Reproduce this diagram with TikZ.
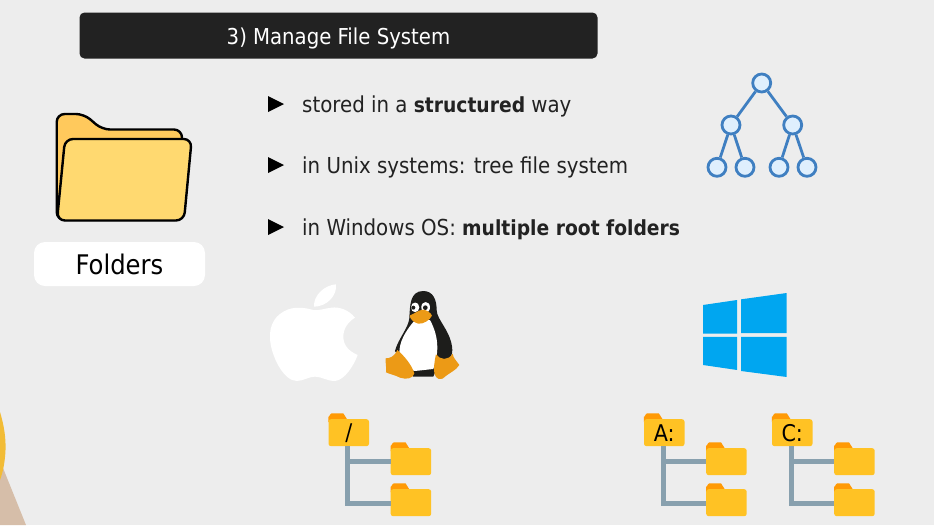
\documentclass[tikz,border=0pt]{standalone}
\usepackage{fontspec}
\setmainfont{DejaVu Sans Condensed}
\definecolor{bgc}{HTML}{EDEDED}
\definecolor{titlec}{HTML}{222222}
\definecolor{fldfront}{HTML}{FFD970}
\definecolor{fldback}{HTML}{FFC95C}
\definecolor{treeline}{HTML}{3F7FC1}
\definecolor{treefill}{HTML}{DFEFFD}
\definecolor{fy}{HTML}{FFC224}
\definecolor{fo}{HTML}{FF9A05}
\definecolor{trunk}{HTML}{88A0AE}
\definecolor{winc}{HTML}{00A6F0}
\definecolor{tuxo}{HTML}{EC9A16}
\definecolor{tuxk}{HTML}{1D1D1B}
\definecolor{beige}{HTML}{D6BEA9}
\definecolor{mustard}{HTML}{F2BC36}
\newcommand{\bt}[1]{{\fontsize{20.8}{25}\selectfont\bfseries #1}}
\tikzset{
  bul/.style={fill=black,draw=none},
  bultext/.style={anchor=west,inner sep=0pt,font=\fontsize{22}{26}\selectfont,text=titlec},
  tn/.style={circle,draw=treeline,line width=2.8pt,fill=treefill,minimum size=18pt,inner sep=0pt},
  te/.style={draw=treeline,line width=2.8pt},
  bigfold/.style={draw=black,line width=2.4pt,rounded corners=8pt,line join=round},
  fb/.style={fill=fy,rounded corners=2.5pt,minimum width=40.5pt,minimum height=27pt,inner sep=0pt,font=\fontsize{23}{27}\selectfont,text=black},
  ft/.style={fill=fo,draw=none},
  tr/.style={draw=trunk,line width=5pt}
}
\newcommand{\foldr}[4]{%
  \fill[ft] (#2,#3+3) -- (#2,#3-2.5) to[out=-70,in=180] (#2+3.5,#3-5.7) -- (#2+15,#3-5.7) -- (#2+20.5,#3+3) -- cycle;
  \node[fb,anchor=north west] (#1) at (#2,#3) {#4};
}
\newcommand{\ftree}[3]{%
  \foldr{#1r}{328.3+#2}{419}{#3}
  \foldr{#1a}{390.5+#2}{448}{}
  \foldr{#1b}{390.5+#2}{489}{}
}
\begin{document}
\begin{tikzpicture}[x=1pt,y=-1pt]
\useasboundingbox (0,0) rectangle (934,525);
\fill[bgc] (0,0) rectangle (934,525);
\fill[beige] (0,468) -- (3,468) -- (26,525) -- (0,525) -- cycle;
\fill[mustard] (0,412) .. controls (4,425) and (6,438) .. (5.5,450) .. controls (5,462) and (3,472) .. (0,480) -- cycle;
\node[fill=titlec,rounded corners=5pt,minimum width=518pt,minimum height=46pt,inner sep=0pt,text=white,font=\fontsize{21.9}{26}\selectfont] (title) at (338.5,35.5) {\raisebox{-8.5pt}[0pt][0pt]{3) Manage File System}};
\path[fill=fldback,bigfold] (56.7,220) -- (56.7,114) -- (84,114) -- (102,129.5) -- (182,129.5) -- (182,220) -- cycle;
\path[fill=fldfront,bigfold] (65,139) -- (191.7,139) -- (184,220.5) -- (57,220.5) -- cycle;
\node[fill=white,rounded corners=11pt,minimum width=171pt,minimum height=44pt,inner sep=0pt,text=black,font=\fontsize{27}{31}\selectfont] (folders) at (119.5,264) {Folders};
\fill[bul] (268,96) -- (284,104) -- (268,112) -- cycle;
\fill[bul] (268,157) -- (284,165) -- (268,173) -- cycle;
\fill[bul] (268,219) -- (284,227) -- (268,235) -- cycle;
\node[bultext] (b1) at (302,106.5) {stored in a \bt{structured} way};
\node[bultext] (b2) at (302,167.5) {in Unix systems: tree file system};
\node[bultext] (b3) at (302,229.5) {in Windows OS: \bt{multiple root folders}};
\node[tn] (n0) at (761.7,83) {};
\node[tn] (n1) at (731,125) {};
\node[tn] (n2) at (792.7,125) {};
\node[tn] (n3) at (717,167.3) {};
\node[tn] (n4) at (745,167.3) {};
\node[tn] (n5) at (779,167.3) {};
\node[tn] (n6) at (807,167.3) {};
\draw[te] (n0) -- (n1);
\draw[te] (n0) -- (n2);
\draw[te] (n1) -- (n3);
\draw[te] (n1) -- (n4);
\draw[te] (n2) -- (n5);
\draw[te] (n2) -- (n6);
\begin{scope}[shift={(260,275)},x=0.3333pt,y=-0.3333pt]
\fill[white] (160,105) .. controls (135,98) and (110,95) .. (85,103)
  .. controls (45,118) and (28,150) .. (30,190)
  .. controls (32,240) and (70,318) .. (110,318)
  .. controls (130,318) and (145,305) .. (165,305)
  .. controls (185,305) and (200,318) .. (225,318)
  .. controls (255,315) and (282,270) .. (293,240)
  .. controls (265,228) and (250,210) .. (250,185)
  .. controls (250,160) and (265,140) .. (285,128)
  .. controls (265,103) and (235,95) .. (215,98)
  .. controls (195,100) and (175,108) .. (160,105) -- cycle;
\fill[white] (162,95) .. controls (160,60) and (195,30) .. (228,28)
  .. controls (232,62) and (200,95) .. (162,95) -- cycle;
\fill[tuxk] (490,48) .. controls (520,48) and (530,75) .. (530,105)
  .. controls (530,135) and (575,170) .. (577,225)
  .. controls (577,250) and (560,262) .. (540,258)
  -- (520,305) -- (460,305) -- (440,280)
  -- (405,228) .. controls (415,190) and (445,160) .. (448,130)
  .. controls (450,90) and (450,48) .. (490,48) -- cycle;
\fill[white] (465,135) .. controls (435,170) and (418,200) .. (418,235)
  .. controls (430,262) and (450,288) .. (465,288)
  -- (520,282) .. controls (535,240) and (540,190) .. (510,135) -- cycle;
\fill[white] (453,97) .. controls (453,78) and (478,78) .. (478,97) .. controls (478,116) and (453,116) .. (453,97) -- cycle;
\fill[white] (484,97) .. controls (484,76) and (510,76) .. (510,97) .. controls (510,118) and (484,118) .. (484,97) -- cycle;
\fill[tuxk] (460,98) circle[radius=6];
\fill[tuxk] (496,98) circle[radius=7];
\fill[tuxo] (449,122) .. controls (465,115) and (475,105) .. (490,104)
  .. controls (500,106) and (512,112) .. (516,122)
  .. controls (510,135) and (490,148) .. (475,146)
  .. controls (462,143) and (450,132) .. (449,122) -- cycle;
\fill[tuxo] (377,250) .. controls (390,250) and (403,245) .. (412,225) .. controls (435,245) and (455,270) .. (463,295)
  .. controls (460,310) and (440,315) .. (420,308)
  .. controls (405,300) and (390,298) .. (378,292) .. controls (380,280) and (376,265) .. (377,250) -- cycle;
\fill[tuxo] (528,238) .. controls (540,255) and (565,258) .. (578,236)
  .. controls (580,250) and (590,258) .. (598,270)
  .. controls (590,285) and (565,295) .. (548,311)
  .. controls (530,318) and (522,300) .. (522,285) .. controls (522,270) and (525,250) .. (528,238) -- cycle;
\end{scope}
\begin{scope}[shift={(690,285)},x=0.3333pt,y=-0.3333pt]
\fill[winc] (39,60) -- (141,45) -- (141,146) -- (39,146) -- cycle;
\fill[winc] (153,43) -- (290,24) -- (290,144) -- (153,144) -- cycle;
\fill[winc] (39,156) -- (141,156) -- (141,255) -- (39,240) -- cycle;
\fill[winc] (153,156) -- (290,156) -- (290,276) -- (153,258) -- cycle;
\end{scope}
\ftree{u}{0}{/}
\draw[tr] ([xshift=-1pt]ur.south) |- (ua.west);
\draw[tr] ([xshift=-1pt]ur.south) |- ([yshift=-1pt]ub.center -| ub.west);
\ftree{a}{315.5}{A:}
\draw[tr] ([xshift=-1pt]ar.south) |- (aa.west);
\draw[tr] ([xshift=-1pt]ar.south) |- ([yshift=-1pt]ab.center -| ab.west);
\ftree{c}{443.5}{C:}
\draw[tr] ([xshift=-1pt]cr.south) |- (ca.west);
\draw[tr] ([xshift=-1pt]cr.south) |- ([yshift=-1pt]cb.center -| cb.west);
\end{tikzpicture}
\end{document}
